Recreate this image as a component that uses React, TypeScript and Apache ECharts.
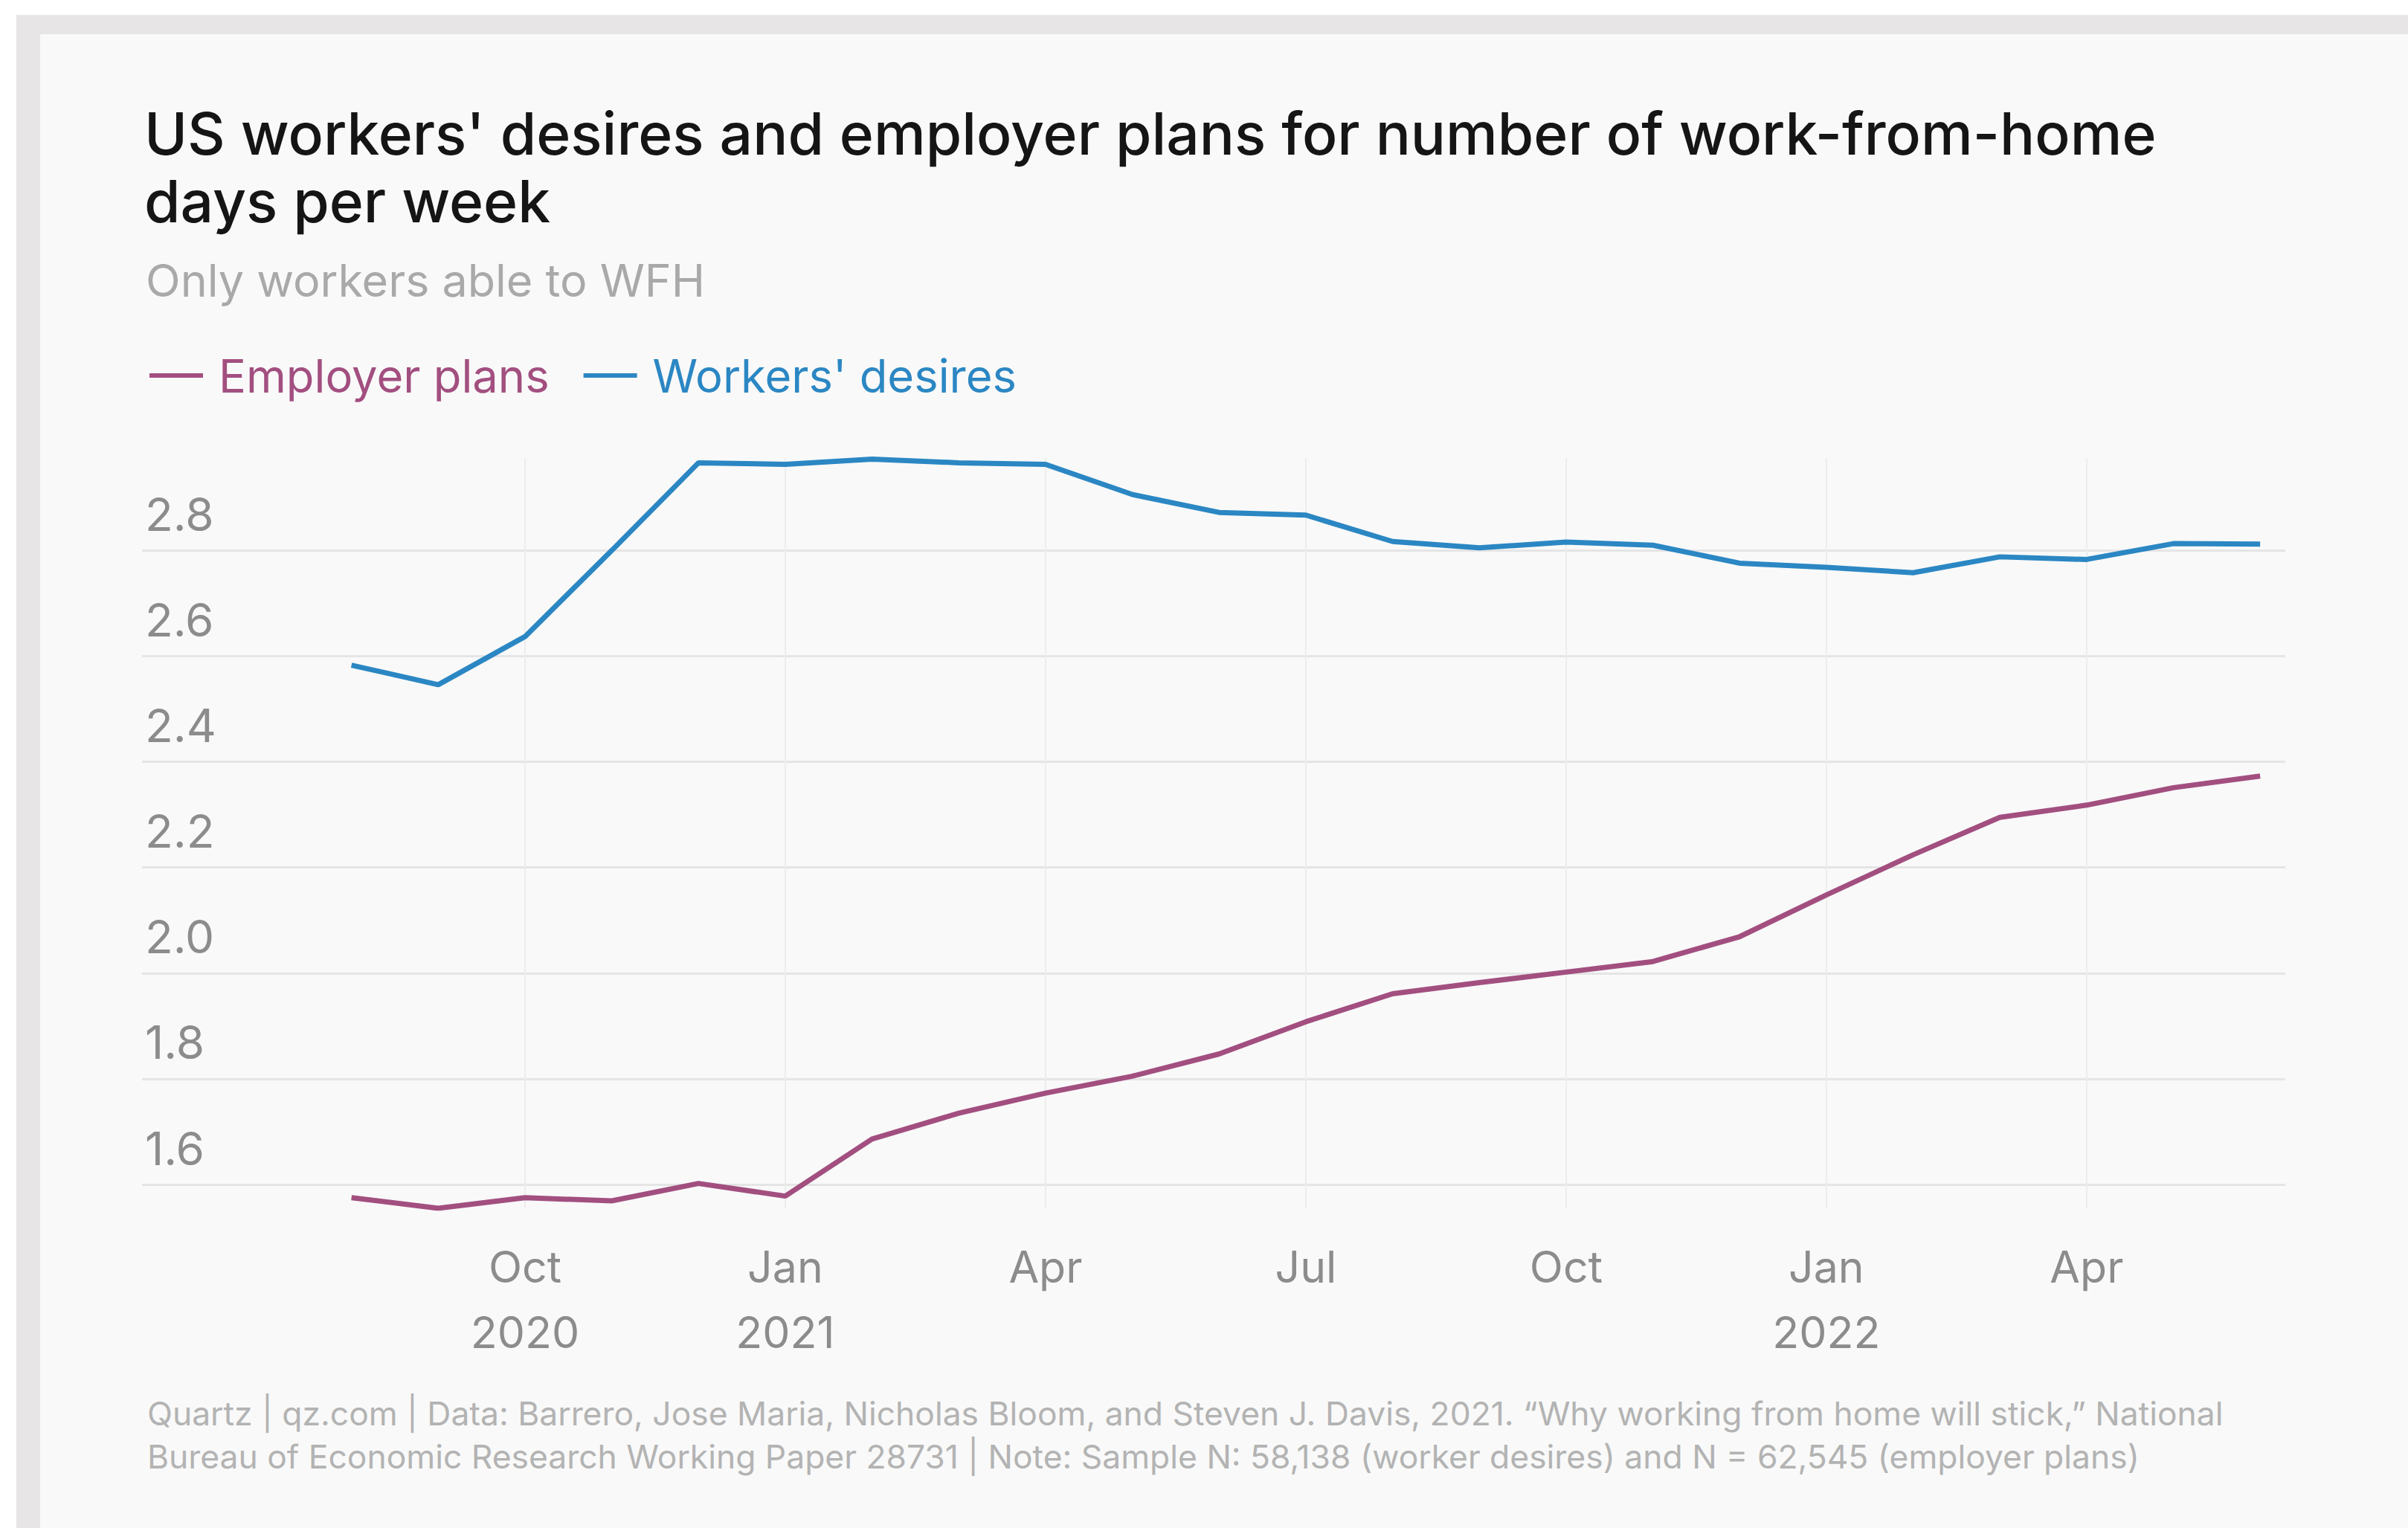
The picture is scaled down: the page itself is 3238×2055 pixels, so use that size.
import React, { useEffect, useRef } from "react";
import * as echarts from "echarts";

// Monthly observations, Aug 2020 .. Jun 2022
const months = [
  "2020-08", "2020-09", "2020-10", "2020-11", "2020-12",
  "2021-01", "2021-02", "2021-03", "2021-04", "2021-05", "2021-06",
  "2021-07", "2021-08", "2021-09", "2021-10", "2021-11", "2021-12",
  "2022-01", "2022-02", "2022-03", "2022-04", "2022-05", "2022-06",
];
const employerPlans = [
  1.575, 1.555, 1.575, 1.569, 1.602, 1.578, 1.686, 1.735, 1.773, 1.805, 1.847,
  1.908, 1.961, 1.982, 2.002, 2.022, 2.069, 2.148, 2.224, 2.295, 2.318, 2.351, 2.373,
];
const workersDesires = [
  2.583, 2.546, 2.637, 2.8, 2.966, 2.963, 2.973, 2.966, 2.963, 2.906, 2.872,
  2.867, 2.817, 2.805, 2.816, 2.81, 2.776, 2.768, 2.758, 2.788, 2.783, 2.813, 2.812,
];
const yTicks = [1.6, 1.8, 2.0, 2.2, 2.4, 2.6, 2.8];
const xTickMonths = ["2020-10", "2021-01", "2021-04", "2021-07", "2021-10", "2022-01", "2022-04"];
const xTickLabels = ["Oct\n2020", "Jan\n2021", "Apr", "Jul", "Oct", "Jan\n2022", "Apr"];

const TITLE = "US workers' desires and employer plans for number of work-from-home\ndays per week";
const SUBTITLE = "Only workers able to WFH";
const FOOTER =
  "Quartz | qz.com | Data: Barrero, Jose Maria, Nicholas Bloom, and Steven J. Davis, 2021. \u201cWhy working from home will stick,\u201d National\nBureau of Economic Research Working Paper 28731 | Note: Sample N: 58,138 (worker desires) and N = 62,545 (employer plans)";

const PINK = "#a24f80";
const BLUE = "#2b87c3";
const FONT = "Inter, 'Liberation Sans', sans-serif";
const W = 3238;
const H = 2055;

export default function App() {
  const ref = useRef<HTMLDivElement>(null);

  useEffect(() => {
    if (!ref.current) return;
    const chart = echarts.init(ref.current, null, { renderer: "svg" });
    const xTickIdx = xTickMonths.map((m) => months.indexOf(m));
    const option: any = {
      animation: false,
      backgroundColor: "#ffffff",
      graphic: [
        { type: "rect", z: -100, shape: { x: 22, y: 20, width: W - 22, height: H - 20 }, style: { fill: "#e7e5e6" } },
        { type: "rect", z: -99, shape: { x: 54, y: 46, width: W - 54, height: H - 46 }, style: { fill: "#f9f9f9" } },
      ],
      title: [
        {
          text: TITLE,
          left: 189,
          top: 129,
          textStyle: { fontFamily: FONT, fontSize: 78.5, fontWeight: 500, color: "#151515", lineHeight: 91 },
        },
        {
          text: SUBTITLE,
          left: 191,
          top: 338,
          textStyle: { fontFamily: FONT, fontSize: 61, fontWeight: 400, color: "#a9a9a9", lineHeight: 68 },
        },
        {
          text: FOOTER,
          left: 193,
          top: 1867,
          textStyle: { fontFamily: FONT, fontSize: 44.4, fontWeight: 400, color: "#b3b3b3", lineHeight: 58 },
        },
      ],
      legend: {
        left: 196,
        top: 469,
        icon: "rect",
        itemWidth: 72,
        itemHeight: 6,
        itemGap: 46,
        textStyle: { fontFamily: FONT, fontSize: 61.5, padding: [0, 0, 0, 16] },
        data: [
          { name: "Employer plans", textStyle: { color: PINK } },
          { name: "Workers' desires", textStyle: { color: BLUE } },
        ],
      },
      grid: { left: 191, right: 165, top: 616, bottom: 430, containLabel: false },
      xAxis: {
        type: "value",
        min: -2.414,
        max: 22.29,
        axisLine: { show: false },
        axisTick: { show: false, customValues: xTickIdx },
        splitLine: { show: true, lineStyle: { color: "#ededed", width: 2 } },
        axisLabel: {
          customValues: xTickIdx,
          formatter: (v: number) => {
            const k = xTickIdx.indexOf(Math.round(v));
            return k >= 0 ? xTickLabels[k] : "";
          },
          fontFamily: FONT,
          fontSize: 59,
          color: "#8c8c8c",
          lineHeight: 88,
          margin: 34,
        },
      },
      yAxis: {
        type: "value",
        min: 1.555,
        max: 2.975,
        axisLine: { show: false },
        axisTick: { show: false, customValues: yTicks },
        splitLine: { show: true, lineStyle: { color: "#e5e5e5", width: 3 } },
        axisLabel: {
          customValues: yTicks,
          inside: true,
          margin: 4,
          align: "left",
          verticalAlign: "bottom",
          padding: [0, 0, 18, 0],
          formatter: (v: number) => v.toFixed(1),
          fontFamily: FONT,
          fontSize: 62,
          color: "#8c8c8c",
        },
      },
      series: [
        {
          name: "Employer plans",
          type: "line",
          showSymbol: false,
          color: PINK,
          lineStyle: { width: 7, color: PINK },
          data: months.map((m, i) => [i, employerPlans[i]]),
        },
        {
          name: "Workers' desires",
          type: "line",
          showSymbol: false,
          color: BLUE,
          lineStyle: { width: 7, color: BLUE },
          data: months.map((m, i) => [i, workersDesires[i]]),
        },
      ],
    };
    chart.setOption(option);
    return () => chart.dispose();
  }, []);

  return (
    <div style={{ position: "fixed", left: 0, top: 0, width: W, height: H }}>
      <div ref={ref} style={{ width: W, height: H }} />
    </div>
  );
}
